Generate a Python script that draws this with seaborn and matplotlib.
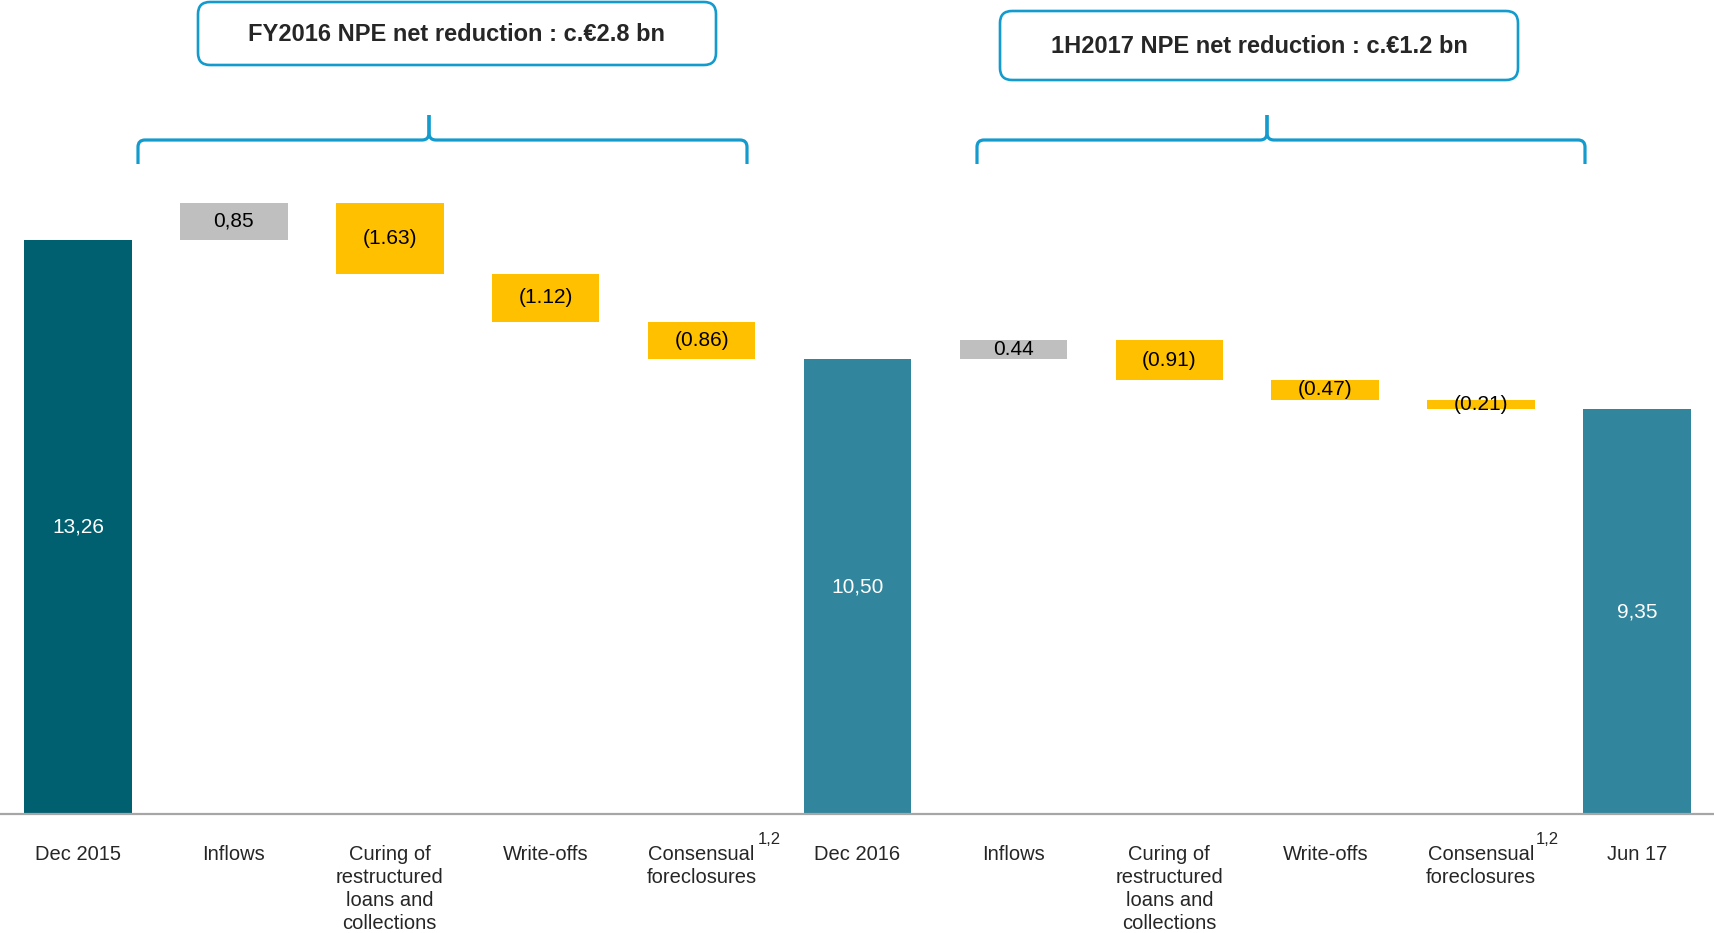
import numpy as np
import pandas as pd
import matplotlib
matplotlib.use("Agg")
import matplotlib.pyplot as plt
from matplotlib.patches import FancyBboxPatch, PathPatch
from matplotlib.path import Path
import seaborn as sns

# Datos del gráfico (NPE en miles de millones de €)
pasos = ["Dec 2015", "Inflows", "Curing of\nrestructured\nloans and\ncollections",
         "Write-offs", "Consensual\nforeclosures", "Dec 2016", "Inflows",
         "Curing of\nrestructured\nloans and\ncollections", "Write-offs",
         "Consensual\nforeclosures", "Jun 17"]
valores = [13.26, 0.85, -1.63, -1.12, -0.86, 10.50, 0.44, -0.91, -0.47, -0.21, 9.35]
tipos = ["total", "delta", "delta", "delta", "delta", "total",
         "delta", "delta", "delta", "delta", "total"]
etiquetas = ["13,26", "0,85", "(1.63)", "(1.12)", "(0.86)", "10,50",
             "0.44", "(0.91)", "(0.47)", "(0.21)", "9,35"]
colores = ["#01606F", "#BFBFBF", "#FFC000", "#FFC000", "#FFC000", "#31859C",
           "#BFBFBF", "#FFC000", "#FFC000", "#FFC000", "#31859C"]
titulos = ["FY2016 NPE net reduction : c.€2.8 bn", "1H2017 NPE net reduction : c.€1.2 bn"]

# Base y altura de cada barra de la cascada
bases, alturas = [], []
nivel = 0.0
for v, t in zip(valores, tipos):
    if t == "total":
        bases.append(0.0)
        alturas.append(v)
        nivel = v
    else:
        bases.append(min(nivel, nivel + v))
        alturas.append(abs(v))
        nivel += v

df = pd.DataFrame({"id": [str(i) for i in range(len(pasos))],
                   "altura": alturas, "base": bases})

sns.set_style("white")
plt.rcParams["font.family"] = ["Liberation Sans", "DejaVu Sans"]

W, H = 1715, 933
fig = plt.figure(figsize=(W / 100, H / 100), dpi=100)
ax = fig.add_axes([0, 119 / H, 1, 814 / H])

sns.barplot(data=df, x="id", y="altura", order=list(df["id"]), bottom=df["base"].values,
            width=0.69, color="#BFBFBF", ax=ax, errorbar=None)
for p, c in zip(ax.patches, colores):
    p.set_facecolor(c)
    p.set_edgecolor("none")

# Etiquetas de valor
for i, (b, h, lab, t) in enumerate(zip(bases, alturas, etiquetas, tipos)):
    ax.text(i, b + h / 2, lab, ha="center", va="center", fontsize=15,
            color="white" if t == "total" else "black")

ax.set_xlim(-0.5, len(pasos) - 0.5)
ax.set_ylim(0, 18.8)
ax.set_xticks(range(len(pasos)), pasos, fontsize=14.5, linespacing=1.27)
ax.tick_params(axis="x", length=0, pad=22)
ax.set_yticks([])
ax.set_xlabel("")
ax.set_ylabel("")
for s in ["top", "left", "right"]:
    ax.spines[s].set_visible(False)
ax.spines["bottom"].set_color("#A6A6A6")
ax.spines["bottom"].set_linewidth(1.6)

# Superíndices de las notas
for xs in [769, 1547]:
    fig.text(xs / W, 1 - 839 / H, "1,2", fontsize=12, ha="center", va="center")

azul = "#149BCD"

# Cajas de títulos
cajas = [(198, 2, 716, 65), (1000, 11, 1518, 80)]
for (x0, y0, x1, y1), txt in zip(cajas, titulos):
    caja = FancyBboxPatch((x0 / W, 1 - y1 / H), (x1 - x0) / W, (y1 - y0) / H,
                          boxstyle="round,pad=0,rounding_size=0.007",
                          mutation_aspect=W / H, transform=fig.transFigure,
                          facecolor="white", edgecolor=azul, linewidth=1.9)
    fig.patches.append(caja)
    fig.text((x0 + x1) / 2 / W, 1 - (y0 + y1 + 2) / 2 / H, txt, ha="center", va="center",
             fontsize=17, fontweight="bold")

# Llaves
def llave(x0, x1, xm, y_pie=164, y_barra=140, y_pico=115, r=7):
    for lado, xe in [(1, x0), (-1, x1)]:
        pts = [(xe, y_pie), (xe, y_barra + r), (xe, y_barra), (xe + lado * r, y_barra),
               (xm - lado * r, y_barra), (xm, y_barra), (xm, y_barra - r), (xm, y_pico)]
        codes = [Path.MOVETO, Path.LINETO, Path.CURVE3, Path.CURVE3,
                 Path.LINETO, Path.CURVE3, Path.CURVE3, Path.LINETO]
        pts = [(px / W, 1 - py / H) for px, py in pts]
        fig.patches.append(PathPatch(Path(pts, codes), transform=fig.transFigure,
                                     facecolor="none", edgecolor=azul, linewidth=2.3,
                                     capstyle="butt", joinstyle="round"))

llave(138, 747, 429)
llave(977, 1585, 1267)

fig.savefig("out.png", dpi=100, facecolor="white")
